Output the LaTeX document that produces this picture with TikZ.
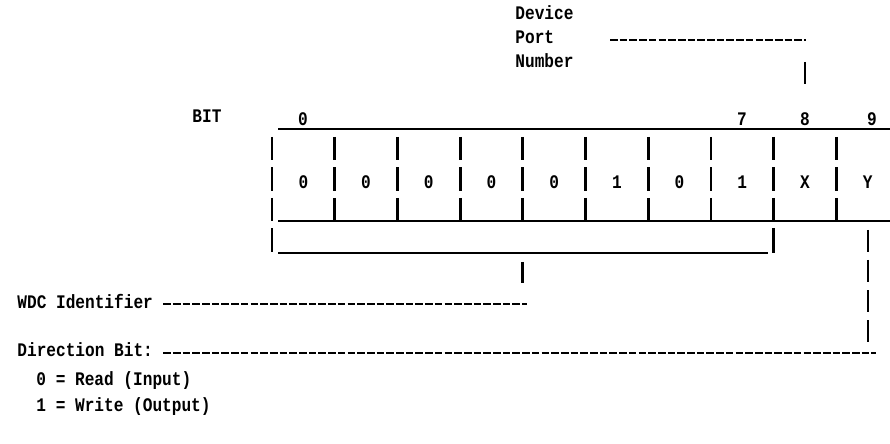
\documentclass[tikz,border=0pt]{standalone}
\usepackage{fontspec}
\setmonofont{Liberation Mono}[FakeStretch=0.84]
\usepackage{tikz}
\usetikzlibrary{positioning}

\tikzset{
  txt/.style={font=\ttfamily\bfseries\fontsize{9.6}{10}\selectfont, inner sep=0pt},
  rule/.style={line width=1.1pt},
  bar/.style={line width=1.4pt, dash pattern=on 11.7pt off 3.5pt},
  hyph/.style={line width=1.4pt, dash pattern=on 3.8pt off 1.05pt},
}

\begin{document}
\begin{tikzpicture}[x=0.5pt, y=-0.5pt]
      \useasboundingbox (0,0) rectangle (890,444);
      % the ten bit cells
      \foreach \v [count=\i from 0] in {0,0,0,0,0,1,0,1,X,Y}
        \node[txt] (c\i) at ({272+62.7*(\i+0.5)},182) {\v};
      \foreach \i in {0,...,9} {
        \coordinate (d\i) at ({272+62.7*\i},137);
        \coordinate (e\i) at ({272+62.7*\i},221);
      }
      \foreach \i in {1,...,9} \draw[bar] (d\i) -- (e\i);
      \coordinate (top0) at (278,129);   \coordinate (top1) at (890,129);
      \coordinate (bot0) at (278,221);   \coordinate (bot1) at (890,221);
      \draw[rule] (top0) -- (top1);
      \draw[rule] (bot0) -- (bot1);
      % bit numbers
      \node[txt, anchor=base] (b0) at (303,126) {0};
      \node[txt, anchor=base] (b7) at (742,126) {7};
      \node[txt, anchor=base] (b8) at (805,126) {8};
      \node[txt, anchor=base] (b9) at (872,126) {9};
      \node[txt, anchor=base] (bit) at (207,123) {BIT};
      % bracket under bits 0..7
      \coordinate (l1) at (272,253);
      \coordinate (br0) at (278,253);    \coordinate (br1) at (768,253);
      \coordinate (r0) at (773.6,228);   \coordinate (r1) at (773.6,253);
      \coordinate (bmid) at (522.8,262); \coordinate (bmid1) at (522.8,283);
      \draw[bar] (d0) -- (l1);
      \draw[rule] (br0) -- (br1);
      \draw[line width=1.4pt] (r0) -- (r1);
      \draw[line width=1.4pt] (bmid) -- (bmid1);
      % device port number
      \node[txt, anchor=base west] (dev) at (515,20) {Device};
      \node[txt, anchor=base west] (port) at (515,44) {Port};
      \node[txt, anchor=base west] (num) at (515,68) {Number};
      \coordinate (pe) at (806,40);
      \coordinate (pv0) at (805,62);     \coordinate (pv1) at (805,84);
      \draw[hyph] (610,40) -- (pe);
      \draw[line width=1.4pt] (pv0) -- (pv1);
      % WDC identifier
      \node[txt, anchor=base west] (wdc) at (17,308) {WDC Identifier};
      \coordinate (we) at (527,304);
      \draw[hyph] ([xshift=5pt]wdc.east |- we) -- (we);
      % direction bit
      \node[txt, anchor=base west] (dir) at (17,357) {Direction Bit:};
      \node[txt, anchor=base west] (rd) at (36,385) {0 = Read (Input)};
      \node[txt, anchor=base west] (wr) at (36,411) {1 = Write (Output)};
      \coordinate (de) at (876,353);
      \coordinate (y0) at (868,230);     \coordinate (y1) at (868,342);
      \draw[hyph] ([xshift=5pt]dir.east |- de) -- (de);
      \draw[bar, dash pattern=on 11pt off 4pt] (y0) -- (y1);
    \end{tikzpicture}
\end{document}
